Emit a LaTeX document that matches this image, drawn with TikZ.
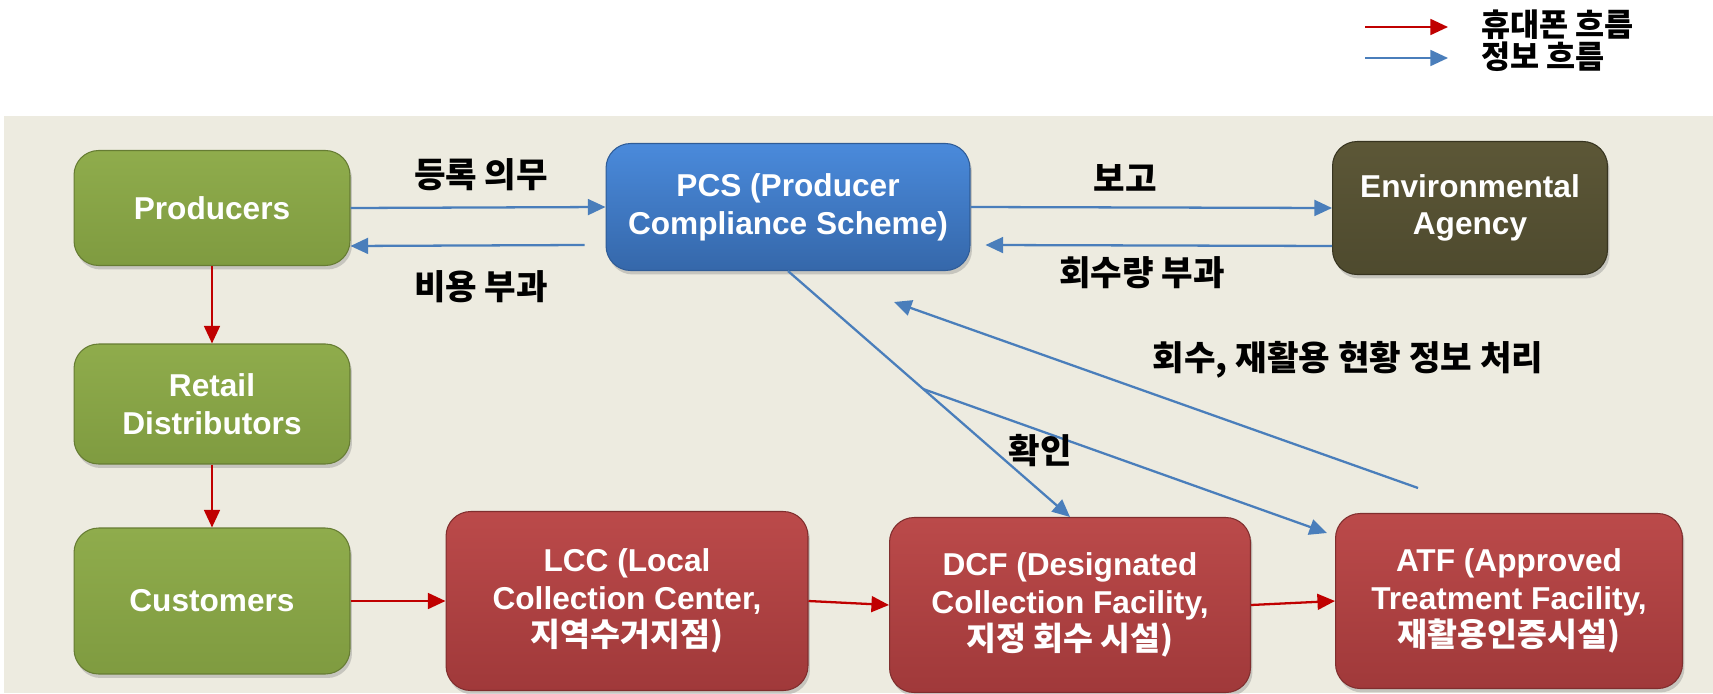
\documentclass[tikz,border=0pt]{standalone}
\usepackage{fontspec}
\setmainfont{Liberation Sans}
\newfontfamily\kr{Noto Sans CJK KR}
\usepackage{tikz}
\usetikzlibrary{arrows.meta,calc,shadows}
\definecolor{panel}{HTML}{EDEBE0}
\definecolor{grn}{HTML}{7F9B40}
\definecolor{grntop}{HTML}{8FAC4C}
\definecolor{blu}{HTML}{3B73BD}
\definecolor{blutop}{HTML}{4A8ADB}
\definecolor{olv}{HTML}{4E4A2E}
\definecolor{olvtop}{HTML}{5C5737}
\definecolor{rd}{HTML}{A0393A}
\definecolor{rdtop}{HTML}{BB4A4A}
\definecolor{redflow}{HTML}{C00000}
\definecolor{blueflow}{HTML}{4A7EBB}
\tikzset{
  box/.style={rounded corners=14pt, text=white, align=center,
    font=\bfseries\fontsize{18}{21.5}\selectfont, line width=0.6pt,
    drop shadow={opacity=0.35, shadow xshift=0.04cm, shadow yshift=-0.08cm}},
  gbox/.style={box, draw=grn!80!black, top color=grntop, bottom color=grn,
    minimum width=5.52cm, minimum height=2.3cm},
  bbox/.style={box, draw=blu!80!black, top color=blutop, bottom color=blu!90!black,
    minimum width=7.28cm, minimum height=2.54cm},
  obox/.style={box, draw=olv!70!black, top color=olvtop, bottom color=olv,
    minimum width=5.5cm, minimum height=2.66cm},
  rbox/.style={box, draw=rd!80!black, top color=rdtop, bottom color=rd,
    minimum width=7.1cm, minimum height=3.5cm},
  flow/.style={draw=redflow, line width=1.3pt, -{Triangle[length=10pt,width=9pt]}},
  info/.style={draw=blueflow, line width=1.3pt, -{Triangle[length=10pt,width=9pt]}},
  lab/.style={text=black, font=\kr\bfseries\fontsize{19.5}{22}\selectfont},
  leg/.style={text=black, font=\kr\bfseries\fontsize{18}{20}\selectfont},
}
\newcommand{\krl}[1]{{\kr\fontsize{18.5}{21.5}\selectfont #1}}

\begin{document}
\begin{tikzpicture}[x=0.02cm, y=-0.02cm]
  \useasboundingbox (0,0) rectangle (1713,693);
  \fill[white] (0,0) rectangle (1713,693);
  \fill[panel] (4,116) rectangle (1713,693);

  % legend
  \node[leg, anchor=west] (legr) at (1475,25) {휴대폰 흐름};
  \node[leg, anchor=west] (legb) at (1475,57) {정보 흐름};
  \draw[flow] ([xshift=-2.2cm,yshift=-0.04cm]legr.west) -- ([xshift=-0.54cm,yshift=-0.04cm]legr.west);
  \draw[info] ([xshift=-2.2cm,yshift=-0.02cm]legb.west) -- ([xshift=-0.54cm,yshift=-0.02cm]legb.west);

  % boxes
  \node[gbox] (prod) at (212,208) {Producers};
  \node[gbox, minimum height=2.4cm] (retail) at (212,404) {Retail\\Distributors};
  \node[gbox, minimum height=2.92cm] (cust) at (212,601) {Customers};
  \node[bbox] (pcs) at (788,207) {PCS (Producer\\Compliance Scheme)};
  \node[obox] (env) at (1470,208) {Environmental\\Agency};
  \node[rbox, minimum width=7.24cm, minimum height=3.58cm] (lcc) at (627,601)
    {LCC (Local\\Collection Center,\\\krl{지역수거지점)}};
  \node[rbox, minimum width=7.22cm, minimum height=3.5cm] (dcf) at (1070,605)
    {DCF (Designated\\Collection Facility,\\\krl{지정 회수 시설)}};
  \node[rbox, minimum width=6.94cm, minimum height=3.5cm] (atf) at (1509,601)
    {ATF (Approved\\Treatment Facility,\\\krl{재활용인증시설)}};

  % phone flow
  \draw[flow] (prod.south) -- (retail.north);
  \draw[flow] (retail.south) -- (cust.north);
  \draw[flow] (cust.east) -- (lcc.west);
  \draw[flow] (lcc.east) -- (dcf.west);
  \draw[flow] (dcf.east) -- (atf.west);

  % information flow
  \draw[info] (prod.east) -- (pcs.west);
  \draw[info] ([xshift=-0.42cm,yshift=-0.76cm]pcs.west) -- ([yshift=-0.76cm]prod.east);
  \draw[info] (pcs.east) -- (env.west);
  \draw[info] ([yshift=-0.76cm]env.west) -- ([xshift=0.3cm,yshift=-0.76cm]pcs.east);
  \coordinate (br) at ($(pcs.south)!0.48!(dcf.north)$);
  \draw[info] (pcs.south) -- (dcf.north);
  \draw[info] (br) -- ([xshift=-0.16cm,yshift=-0.4cm]atf.north west);
  \draw[info] ([xshift=-1.82cm,yshift=0.5cm]atf.north) -- ([xshift=2.12cm,yshift=-0.62cm]pcs.south);

  % labels
  \node[lab] (l1) at (481,175) {등록 의무};
  \node[lab] (l2) at (481,287) {비용 부과};
  \node[lab] (l3) at (1125,178) {보고};
  \node[lab] (l4) at (1142,273) {회수량 부과};
  \node[lab] (l5) at (1040,451) {확인};
  \node[lab] (l6) at (1348,360) {회수, 재활용 현황 정보 처리};
\end{tikzpicture}
\end{document}
